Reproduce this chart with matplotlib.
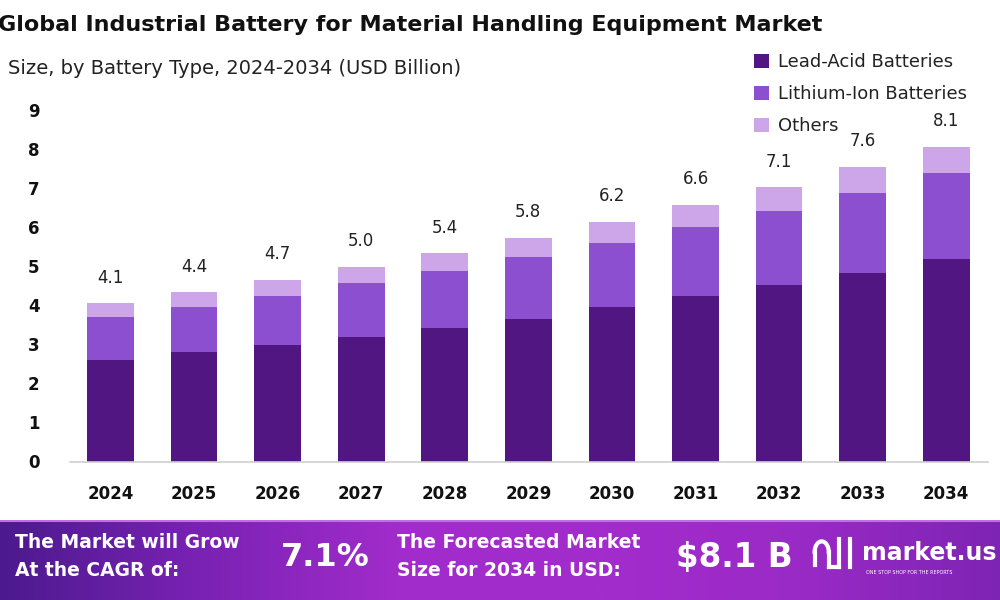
import matplotlib
matplotlib.use("Agg")
import matplotlib.pyplot as plt
import numpy as np
from matplotlib.colors import LinearSegmentedColormap

years = ["2024", "2025", "2026", "2027", "2028", "2029", "2030", "2031", "2032", "2033", "2034"]
lead_acid = [2.60, 2.80, 2.98, 3.20, 3.43, 3.66, 3.95, 4.23, 4.51, 4.83, 5.18]
lithium_ion = [1.11, 1.16, 1.27, 1.36, 1.45, 1.57, 1.65, 1.77, 1.91, 2.05, 2.20]
others = [0.34, 0.37, 0.41, 0.43, 0.45, 0.49, 0.54, 0.57, 0.60, 0.67, 0.68]
totals = [4.1, 4.4, 4.7, 5.0, 5.4, 5.8, 6.2, 6.6, 7.1, 7.6, 8.1]
series_names = ["Lead-Acid Batteries", "Lithium-Ion Batteries", "Others"]
colors = ["#521682", "#8c4fcf", "#cda6ea"]

title = "Global Industrial Battery for Material Handling Equipment Market"
subtitle = "Size, by Battery Type, 2024-2034 (USD Billion)"
cagr_text = "7.1%"
forecast_text = "$8.1 B"

plt.rcParams['font.family'] = ['DejaVu Sans']

fig = plt.figure(figsize=(10, 6), dpi=100)
W, H = 1000, 600

# main axes
ax = fig.add_axes([70 / W, (H - 461.5) / H, (988 - 70) / W, (461.5 - 110) / H])
x = np.arange(len(years))
bw = 0.56
b1 = ax.bar(x, lead_acid, bw, color=colors[0], label=series_names[0])
b2 = ax.bar(x, lithium_ion, bw, bottom=lead_acid, color=colors[1], label=series_names[1])
bottom2 = np.array(lead_acid) + np.array(lithium_ion)
b3 = ax.bar(x, others, bw, bottom=bottom2, color=colors[2], label=series_names[2])
tops = bottom2 + np.array(others)
for xi, t, lab in zip(x, tops, totals):
    ax.annotate(f"{lab:.1f}", (xi, t), xytext=(0, 12), textcoords="offset points",
                ha="center", va="bottom", fontsize=12, color="#222222")

ax.set_xlim(-0.485, 10.5)
ax.set_ylim(0, 9)
ax.set_yticks(range(10))
ax.set_xticks(x)
ax.set_xticklabels(years)
for s in ["top", "right", "left"]:
    ax.spines[s].set_visible(False)
ax.spines["bottom"].set_color("#d0d0d0")
ax.spines["bottom"].set_linewidth(1.2)
ax.tick_params(axis="y", length=0, pad=22, labelsize=12)
ax.tick_params(axis="x", length=0, pad=17, labelsize=12)
for lab in ax.get_yticklabels() + ax.get_xticklabels():
    lab.set_fontweight("bold")
    lab.set_color("#111111")

# titles
fig.text(-2 / W, 1 - 25 / H, title, fontsize=16, fontweight="bold", color="#111111",
         ha="left", va="center")
fig.text(8 / W, 1 - 68 / H, subtitle, fontsize=14, color="#222222", ha="left", va="center")

# legend
leg = fig.legend(handles=[b1, b2, b3], labels=series_names, loc="upper left",
                 bbox_to_anchor=(747 / W, 1 - 46 / H), frameon=False, fontsize=13,
                 handlelength=0.8, handleheight=0.8, handletextpad=0.5, labelspacing=0.78,
                 borderaxespad=0, labelcolor="#222222")

# banner
bax = fig.add_axes([0, 0, 1, 80 / H])
cmap = LinearSegmentedColormap.from_list("b", ["#4c1a8e", "#7a22b4", "#a22ccb", "#a32ccc", "#9a2ac6", "#7e24b4"])
grad = np.linspace(0, 1, 512).reshape(1, -1)
bax.imshow(grad, aspect="auto", cmap=cmap, extent=[0, 1, 0, 1])
bax.set_xlim(0, 1)
bax.set_ylim(0, 1)
bax.axis("off")
bax.axhline(0.985, color="#c070e0", linewidth=1.5)

def btxt(xp, yp, s, size, **kw):
    fig.text(xp / W, 1 - yp / H, s, fontsize=size, fontweight="bold", color="white",
             ha="left", va="center", **kw)

btxt(15, 543, "The Market will Grow", 13.5)
btxt(15, 570, "At the CAGR of:", 13.5)
btxt(281, 557, cagr_text, 23)
btxt(397, 543, "The Forecasted Market", 13.5)
btxt(397, 570, "Size for 2034 in USD:", 13.5)
btxt(676, 557, forecast_text, 23.5)
btxt(862, 553, "market.us", 17)
fig.text(866 / W, 1 - 572 / H, "ONE STOP SHOP FOR THE REPORTS", fontsize=3.5, color="white",
         ha="left", va="center")
# logo glyph
lax = fig.add_axes([812 / W, (H - 575) / H, 44 / W, 42 / H])
lax.set_xlim(0, 1)
lax.set_ylim(0, 1)
lax.axis("off")
th = np.linspace(np.pi, 0, 50)
lax.plot(0.22 + 0.16 * np.cos(th), 0.55 + 0.25 * np.sin(th), color="white", lw=3)
lax.plot([0.06, 0.06], [0.55, 0.25], color="white", lw=3)
lax.plot([0.38, 0.38], [0.55, 0.2], color="white", lw=3)
lax.plot([0.62, 0.62], [0.85, 0.2], color="white", lw=3)
lax.plot([0.86, 0.86], [0.85, 0.2], color="white", lw=3)
lax.plot([0.38, 0.62], [0.2, 0.2], color="white", lw=3)

fig.savefig("out.png", dpi=100)
